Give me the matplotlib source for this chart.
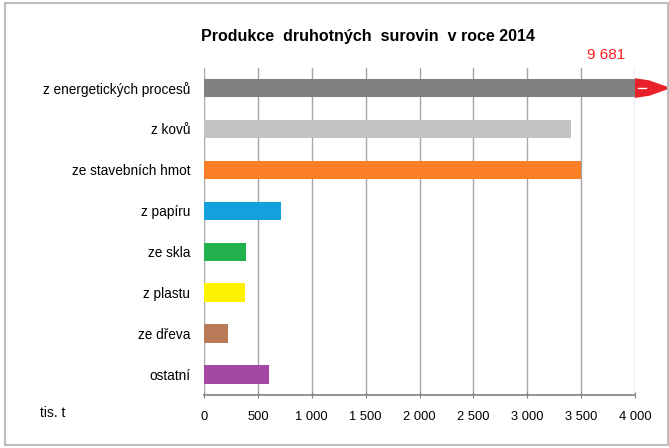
import matplotlib
matplotlib.use("Agg")
import matplotlib.pyplot as plt
from matplotlib.patches import Rectangle, Polygon

categories = ["z energetických procesů", "z kovů", "ze stavebních hmot", "z papíru",
              "ze skla", "z plastu", "ze dřeva", "ostatní"]
values = [9681, 3406, 3499, 715, 390, 380, 223, 603]
colors = ["#808080", "#c3c3c3", "#ff7f27", "#14a0dc", "#22b14c", "#fff200", "#b97a57", "#a349a4"]
xticks = [0, 500, 1000, 1500, 2000, 2500, 3000, 3500, 4000]
xticklabels = ["0", "500", "1 000", "1 500", "2 000", "2 500", "3 000", "3 500", "4 000"]
xmax = 4000

plt.rcParams['font.family'] = ['Liberation Sans', 'DejaVu Sans']

fig = plt.figure(figsize=(6.69, 4.48), dpi=100)
fig.patches.append(Rectangle((5/669, 3/448), 663/669, 442/448, transform=fig.transFigure,
                             fill=False, edgecolor="#bdbdbd", linewidth=1.5))

ax = fig.add_axes([204/669, 1-395/448, (635-204)/669, (395-67.6)/448])
y = list(range(len(categories)))
ax.barh(y, [min(v, xmax) for v in values], height=0.45, color=colors, zorder=3)
ax.set_xlim(0, xmax)
ax.set_ylim(len(categories)-0.5, -0.5)
ax.set_yticks(y)
ax.set_yticklabels(categories, fontsize=9.8)
ax.set_xticks(xticks)
ax.set_xticklabels(xticklabels, fontsize=9.3)
ax.tick_params(axis='y', length=0, pad=10)
ax.tick_params(axis='x', length=5, direction='inout', color="#808080", pad=9)
for s in ["top", "right", "left"]:
    ax.spines[s].set_visible(False)
ax.spines["bottom"].set_color("#808080")
ax.spines["bottom"].set_linewidth(1.2)
ax.grid(axis='x', color="#a6a6a6", linewidth=1, zorder=0)
ax.set_axisbelow(True)

# overflow value label and arrow
ax.text(3730, -0.8, "9 681", color="#ff2020", fontsize=11, ha="center", va="center")
tr = ax.get_yaxis_transform()
w = 431.0
pts = [(1.0, -0.24), (1.0 + 14/w, -0.19), (1.0 + 36/w, 0.0), (1.0 + 14/w, 0.19), (1.0, 0.24)]
ax.add_patch(Polygon(pts, closed=True, transform=tr, facecolor="#e8202a", edgecolor="none",
                     clip_on=False, zorder=4))
ax.plot([1.0 + 3/w, 1.0 + 11/w], [0, 0], transform=tr, color="white", lw=1, clip_on=False, zorder=5)

fig.text(0.5 + 0.05, 1-37/448, "Produkce  druhotných  surovin  v roce 2014", ha="center", va="center",
         fontsize=11.5, fontweight="bold")
fig.text(40/669, 1-413/448, "tis. t", fontsize=10, ha="left", va="center")

fig.savefig("out.png", dpi=100)
